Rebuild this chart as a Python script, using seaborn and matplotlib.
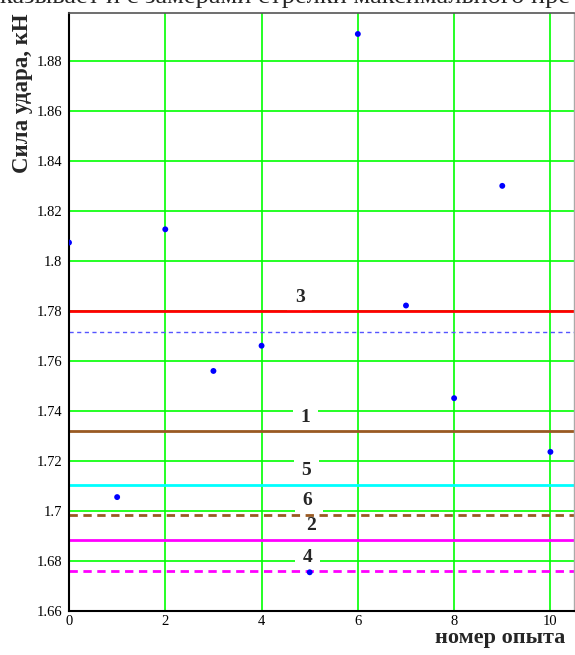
import matplotlib
matplotlib.use('Agg')
import matplotlib.pyplot as plt
import pandas as pd
import seaborn as sns

# номер опыта / сила удара, кН
trial = [0, 1, 2, 3, 4, 5, 6, 7, 8, 9, 10]
force = [1.8075, 1.7056, 1.8128, 1.7561, 1.7662, 1.6755, 1.891, 1.7823, 1.7452, 1.8302, 1.7237]

mean_force = 1.7717

# numbered reference levels
line_names = ['3', '1', '5', '6', '2', '4']
line_levels = [1.780, 1.732, 1.7105, 1.6985, 1.6885, 1.676]

y_ticks = [1.66, 1.68, 1.70, 1.72, 1.74, 1.76, 1.78, 1.80, 1.82, 1.84, 1.86, 1.88]
y_tick_labels = ['1.66', '1.68', '1.7', '1.72', '1.74', '1.76', '1.78', '1.8', '1.82', '1.84', '1.86', '1.88']
x_ticks = [0, 2, 4, 6, 8, 10]

# styles
line_colors = ['#ff0000', '#995a22', '#00ffff', '#995a22', '#ff00ff', '#ff00ff']
line_styles = ['-', '-', '-', (0, (3, 2)), '-', (0, (3, 2))]
label_x = [4.79, 4.91, 4.93, 4.95, 5.02, 4.96]

sns.set_theme(style='white')
plt.rcParams['font.family'] = ['Liberation Serif', 'DejaVu Serif']

df = pd.DataFrame({'trial': trial, 'force': force})

fig = plt.figure(figsize=(5.75, 6.55), dpi=100)
ax = fig.add_axes([69 / 575, 44 / 655, 505 / 575, 598.5 / 655])

ax.set_xlim(0, 10.49)
ax.set_ylim(1.66, 1.8996)
ax.set_xticks(x_ticks)
ax.set_yticks(y_ticks)
ax.set_yticklabels(y_tick_labels)
ax.tick_params(length=0, labelsize=10.5, colors='black')
ax.tick_params(axis='y', pad=5)
ax.tick_params(axis='x', pad=3)
ax.grid(True, color='#00ff00', lw=1.2, zorder=0.5)
ax.set_axisbelow(True)

for s in ['left', 'bottom']:
    ax.spines[s].set_color('black')
    ax.spines[s].set_linewidth(1.5)
ax.spines['top'].set_color('#555555')
ax.spines['top'].set_linewidth(1.2)
ax.spines['right'].set_color('#aaaaaa')
ax.spines['right'].set_linewidth(1.0)

ax.axhline(mean_force, color='#5555ff', lw=1.0, ls=(0, (3, 2.5)), zorder=2)
for name, lvl, c, st, lx in zip(line_names, line_levels, line_colors, line_styles, label_x):
    ax.axhline(lvl, color=c, lw=2.0, ls=st, zorder=2)
    ax.annotate(name, (lx, lvl), xytext=(0, 10), textcoords='offset points',
                ha='center', va='center', fontsize=14, fontweight='bold',
                bbox=dict(boxstyle='square,pad=0.4', fc='white', ec='none'),
                zorder=1.5)

sns.scatterplot(data=df, x='trial', y='force', ax=ax, color='#0000ff',
                s=18, edgecolor='none', zorder=4, legend=False)
ax.set_xlabel('')
ax.set_ylabel('')

fig.text(23 / 575, 1 - 13 / 655, 'Сила удара, кН', rotation=90, ha='center', va='top',
         fontsize=16.5, fontweight='bold')
fig.text(565 / 575, 7 / 655, 'номер опыта', ha='right', va='bottom',
         fontsize=16, fontweight='bold')
fig.text(0, 1 - 3 / 655, 'казывает и с замерами стрелки максимального пре',
         ha='left', va='baseline', fontsize=19)

fig.savefig('out.png', dpi=100)
